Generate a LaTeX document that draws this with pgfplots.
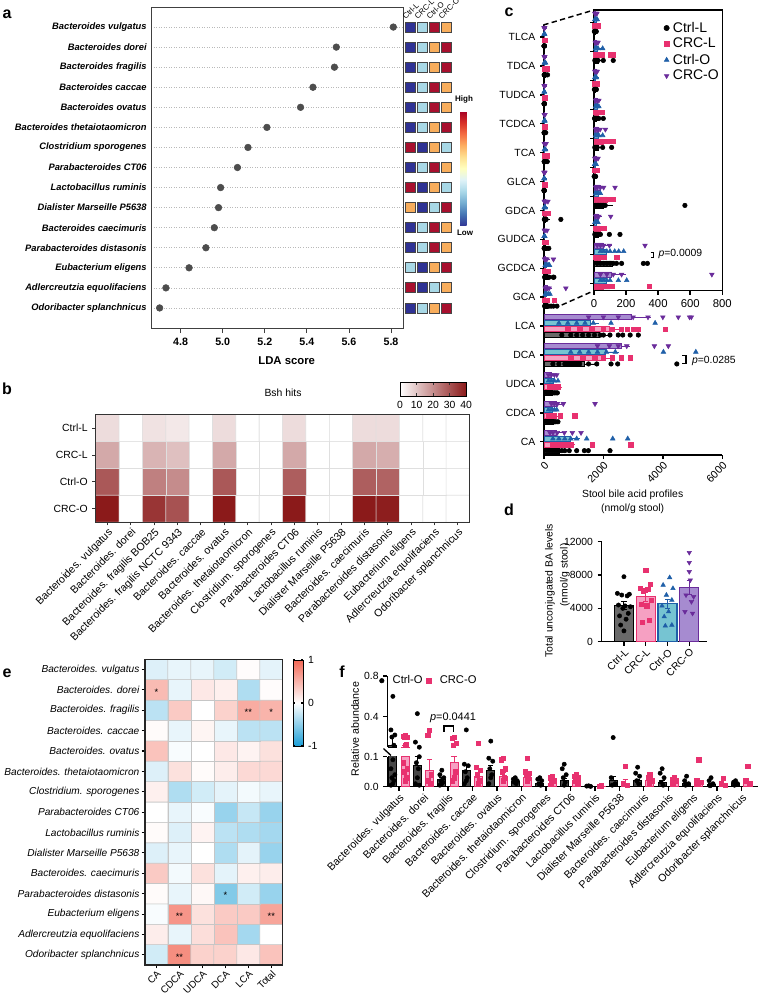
\documentclass[border=0pt]{standalone}
\usepackage{pgfplots}
\pgfplotsset{compat=1.18}
\usepackage{pgfplotstable}
\usepackage{fontspec}
\setmainfont{Liberation Sans}
\usetikzlibrary{calc}

\definecolor{cB}{RGB}{47,50,148}
\definecolor{cL}{RGB}{168,216,230}
\definecolor{cO}{RGB}{248,173,92}
\definecolor{cR}{RGB}{168,16,46}
\definecolor{dotgray}{RGB}{77,77,77}
\definecolor{sqedge}{RGB}{70,70,70}
\definecolor{pinkE}{RGB}{232,49,111}
\definecolor{pinkF}{RGB}{246,160,194}
\definecolor{blueE}{RGB}{31,95,168}
\definecolor{blueF}{RGB}{118,196,210}
\definecolor{purpE}{RGB}{106,44,155}
\definecolor{purpF}{RGB}{166,139,208}
\definecolor{grayF}{RGB}{105,105,105}

\newcommand\fs[1]{\fontsize{#1}{#1}\selectfont}

\pgfplotsset{
  every axis/.append style={scale only axis, /pgf/number format/assume math mode=true,
     /pgf/number format/1000 sep={},
     tick label style={font=\fs{7.8}}},
  mylegimg/.style={legend image code/.code={\draw[##1] plot coordinates {(0pt,0pt)}; \path (-2.5pt,0pt) (#1,0pt);}},
}

% ---- panel c data: bars (k mean err) and points (k value)
\pgfplotstableread[row sep=\\]{k m e\\
0 8 3\\ 1 30 12\\ 2 8 3\\ 3 15 6\\ 4 25 10\\ 5 5 2\\ 6 60 40\\ 7 30 12\\ 8 115 25\\ 9 100 30\\ 10 1850 250\\ 11 1350 330\\ 12 280 40\\ 13 300 40\\ 14 520 150\\}\bCtrlL
\pgfplotstableread[row sep=\\]{k m e\\
0 15 5\\ 1 40 15\\ 2 12 4\\ 3 30 8\\ 4 58 20\\ 5 10 4\\ 6 80 20\\ 7 37 10\\ 8 37 15\\ 9 58 15\\ 10 2200 400\\ 11 2000 300\\ 12 450 60\\ 13 340 60\\ 14 700 250\\}\bCRCL
\pgfplotstableread[row sep=\\]{k m e\\
0 12 4\\ 1 20 8\\ 2 10 3\\ 3 20 6\\ 4 25 8\\ 5 8 3\\ 6 27 8\\ 7 15 5\\ 8 79 15\\ 9 79 15\\ 10 1550 200\\ 11 2050 400\\ 12 300 50\\ 13 280 50\\ 14 875 230\\}\bCtrlO
\pgfplotstableread[row sep=\\]{k m e\\
0 10 3\\ 1 15 5\\ 2 12 3\\ 3 20 5\\ 4 25 10\\ 5 15 5\\ 6 37 15\\ 7 25 10\\ 8 58 38\\ 9 110 73\\ 10 2950 560\\ 11 2600 200\\ 12 250 50\\ 13 400 100\\ 14 430 150\\}\bCRCO

\pgfplotstableread[row sep=\\]{k v\\
0 2\\0 4\\0 6\\0 8\\0 10\\0 12\\0 14\\
1 5\\1 10\\1 15\\1 20\\1 25\\1 58\\1 120\\
2 2\\2 5\\2 8\\2 10\\2 12\\2 15\\
3 3\\3 6\\3 10\\3 15\\3 20\\3 30\\3 58\\
4 5\\4 10\\4 15\\4 20\\4 54\\4 110\\
5 1\\5 3\\5 5\\5 8\\5 10\\
6 10\\6 20\\6 30\\6 40\\6 50\\6 60\\6 70\\6 567\\
7 5\\7 10\\7 15\\7 20\\7 30\\7 40\\7 96\\7 162\\
8 20\\8 40\\8 60\\8 80\\8 100\\8 120\\8 140\\8 172\\8 308\\8 333\\
9 20\\9 40\\9 60\\9 80\\9 100\\9 120\\9 162\\9 241\\9 318\\9 437\\
10 600\\10 900\\10 1100\\10 1300\\10 1500\\10 1700\\10 1900\\10 2000\\10 2220\\10 2500\\10 2650\\10 2900\\10 3175\\
11 300\\11 500\\11 700\\11 800\\11 900\\11 1000\\11 1100\\11 1200\\11 1500\\11 1775\\11 2256\\11 2480\\11 4470\\
12 100\\12 150\\12 200\\12 250\\12 300\\12 350\\12 400\\12 450\\
13 100\\13 150\\13 200\\13 250\\13 300\\13 350\\13 400\\13 470\\
14 100\\14 200\\14 300\\14 400\\14 500\\14 600\\14 700\\14 850\\14 1100\\14 1357\\14 1492\\14 2222\\}\pCtrlL
\pgfplotstableread[row sep=\\]{k v\\
0 5\\0 10\\0 15\\0 20\\0 25\\
1 10\\1 20\\1 30\\1 48\\1 100\\1 117\\
2 5\\2 10\\2 15\\2 20\\
3 10\\3 20\\3 30\\3 40\\3 50\\
4 20\\4 30\\4 40\\4 58\\4 80\\4 117\\
5 5\\5 10\\5 15\\5 20\\
6 20\\6 40\\6 60\\6 83\\6 100\\6 120\\
7 10\\7 20\\7 30\\7 48\\7 60\\
8 10\\8 20\\8 30\\8 40\\8 60\\8 141\\
9 20\\9 40\\9 58\\9 80\\9 110\\9 345\\
10 800\\10 1200\\10 1600\\10 2000\\10 2300\\10 2600\\10 2800\\10 3000\\10 3175\\10 4075\\
11 900\\11 1300\\11 1700\\11 2000\\11 2300\\11 2600\\11 2900\\
12 200\\12 300\\12 400\\12 450\\12 485\\
13 150\\13 250\\13 350\\13 540\\13 1044\\
14 300\\14 400\\14 500\\14 600\\14 700\\14 800\\14 900\\14 1627\\14 2918\\}\pCRCL
\pgfplotstableread[row sep=\\]{k v\\
0 5\\0 10\\0 15\\0 20\\
1 10\\1 15\\1 25\\1 54\\
2 5\\2 10\\2 15\\
3 10\\3 15\\3 20\\3 30\\
4 10\\4 20\\4 30\\4 54\\
5 3\\5 6\\5 10\\5 14\\
6 10\\6 20\\6 30\\6 40\\
7 5\\7 10\\7 15\\7 20\\7 25\\
8 40\\8 60\\8 80\\8 100\\8 129\\8 154\\8 185\\
9 40\\9 60\\9 80\\9 100\\9 152\\9 204\\
10 500\\10 800\\10 1100\\10 1380\\10 1660\\10 2256\\10 3740\\
11 900\\11 1200\\11 1500\\11 1800\\11 2100\\11 2400\\11 4020\\11 5110\\
12 150\\12 250\\12 350\\12 470\\
13 150\\13 250\\13 350\\13 430\\
14 300\\14 500\\14 700\\14 900\\14 1100\\14 1437\\14 2313\\14 2818\\}\pCtrlO
\pgfplotstableread[row sep=\\]{k v\\
0 5\\0 10\\0 15\\0 18\\
1 8\\1 15\\1 20\\1 25\\
2 5\\2 10\\2 15\\2 20\\
3 10\\3 20\\3 30\\
4 10\\4 20\\4 38\\4 71\\
5 5\\5 10\\5 15\\5 25\\
6 10\\6 20\\6 40\\6 60\\6 131\\
7 10\\7 20\\7 30\\7 104\\
8 20\\8 40\\8 60\\8 96\\8 318\\
9 40\\9 80\\9 120\\9 172\\9 735\\
10 1500\\10 2000\\10 2500\\10 3000\\10 3500\\10 4000\\10 4520\\10 4900\\10 4960\\
11 1800\\11 2200\\11 2500\\11 2785\\11 3715\\11 4185\\
12 150\\12 250\\12 350\\12 430\\
13 250\\13 350\\13 450\\13 650\\13 1717\\
14 200\\14 300\\14 450\\14 684\\14 953\\14 1246\\}\pCRCO

% ---- panel f data
\pgfplotstableread[row sep=\\]{k m e\\
0 0.12 0.09\\ 1 0.072 0.028\\ 2 0.025 0.008\\ 3 0.055 0.02\\ 4 0.055 0.015\\ 5 0.018 0.004\\ 6 0.012 0.003\\ 7 0.02 0.008\\ 8 0.002 0.0005\\ 9 0.02 0.015\\ 10 0.02 0.006\\ 11 0.015 0.005\\ 12 0.012 0.004\\ 13 0.008 0.003\\ 14 0.012 0.003\\}\fbK
\pgfplotstableread[row sep=\\]{k m e\\
0 0.102 0.02\\ 1 0.055 0.035\\ 2 0.082 0.018\\ 3 0.035 0.012\\ 4 0.035 0.012\\ 5 0.03 0.012\\ 6 0.012 0.004\\ 7 0.02 0.006\\ 8 0.002 0.0005\\ 9 0.012 0.012\\ 10 0.02 0.005\\ 11 0.02 0.004\\ 12 0.015 0.008\\ 13 0.008 0.004\\ 14 0.012 0.006\\}\fbP
\pgfplotstableread[row sep=\\]{k j v\\
0 0 0.60\\ 0 -0.08 0.27\\ 0 0.08 0.22\\ 0 -0.04 0.20\\ 0 0.04 0.12\\ 0 0 0.09\\ 0 -0.08 0.06\\ 0 0.08 0.04\\ 0 -0.04 0.03\\ 0 0.04 0.02\\ 0 0 0.01\\ 0 -0.08 0.005\\
1 0 0.43\\ 1 -0.08 0.15\\ 1 0.08 0.10\\ 1 -0.04 0.08\\ 1 0.04 0.06\\ 1 0 0.03\\ 1 -0.08 0.01\\ 1 0.08 0.005\\
2 0 0.055\\ 2 -0.08 0.04\\ 2 0.08 0.03\\ 2 -0.04 0.02\\ 2 0.04 0.015\\ 2 0 0.01\\ 2 -0.08 0.005\\
3 0 0.27\\ 3 -0.08 0.075\\ 3 0.08 0.07\\ 3 -0.04 0.05\\ 3 0.04 0.03\\ 3 0 0.02\\ 3 -0.08 0.01\\
4 0 0.16\\ 4 -0.08 0.095\\ 4 0.08 0.085\\ 4 -0.04 0.06\\ 4 0.04 0.04\\ 4 0 0.03\\ 4 -0.08 0.01\\
5 0 0.03\\ 5 -0.08 0.025\\ 5 0.08 0.02\\ 5 -0.04 0.015\\ 5 0.04 0.01\\
6 0 0.03\\ 6 -0.08 0.025\\ 6 0.08 0.02\\ 6 -0.04 0.01\\ 6 0.04 0.005\\
7 0 0.075\\ 7 -0.08 0.06\\ 7 0.08 0.04\\ 7 -0.04 0.03\\ 7 0.04 0.015\\ 7 0 0.005\\
8 0 0.003\\ 8 -0.08 0.002\\ 8 0.08 0.001\\
9 0 0.195\\ 9 -0.08 0.03\\ 9 0.08 0.01\\ 9 -0.04 0.005\\
10 0 0.065\\ 10 -0.08 0.045\\ 10 0.08 0.035\\ 10 -0.04 0.02\\ 10 0.04 0.01\\
11 0 0.06\\ 11 -0.08 0.045\\ 11 0.08 0.03\\ 11 -0.04 0.015\\ 11 0.04 0.005\\
12 0 0.035\\ 12 -0.08 0.02\\ 12 0.08 0.01\\ 12 -0.04 0.005\\
13 0 0.03\\ 13 -0.08 0.02\\ 13 0.08 0.01\\ 13 -0.04 0.003\\
14 0 0.02\\ 14 -0.08 0.015\\ 14 0.08 0.01\\ 14 -0.04 0.005\\}\fpK
\pgfplotstableread[row sep=\\]{k j v\\
0 0 0.22\\ 0 -0.08 0.21\\ 0 0.08 0.20\\ 0 -0.04 0.20\\ 0 0.04 0.13\\ 0 0 0.12\\ 0 -0.08 0.08\\ 0 0.08 0.06\\ 0 -0.04 0.05\\ 0 0.04 0.03\\ 0 0 0.02\\
1 0 0.27\\ 1 -0.08 0.22\\ 1 0.08 0.04\\ 1 -0.04 0.02\\ 1 0.04 0.01\\
2 0 0.20\\ 2 -0.08 0.19\\ 2 0.08 0.14\\ 2 -0.04 0.12\\ 2 0.04 0.05\\ 2 0 0.03\\ 2 -0.08 0.02\\
3 0 0.14\\ 3 -0.08 0.065\\ 3 0.08 0.055\\ 3 -0.04 0.04\\ 3 0.04 0.02\\ 3 0 0.01\\
4 0 0.095\\ 4 -0.08 0.09\\ 4 0.08 0.06\\ 4 -0.04 0.05\\ 4 0.04 0.03\\ 4 0 0.02\\
5 0 0.095\\ 5 -0.08 0.05\\ 5 0.08 0.045\\ 5 -0.04 0.04\\ 5 0.04 0.03\\ 5 0 0.02\\
6 0 0.035\\ 6 -0.08 0.03\\ 6 0.08 0.02\\ 6 -0.04 0.01\\
7 0 0.04\\ 7 -0.08 0.035\\ 7 0.08 0.03\\ 7 -0.04 0.02\\ 7 0.04 0.01\\
8 0 0.003\\ 8 -0.08 0.002\\
9 0 0.067\\ 9 -0.08 0.01\\ 9 0.08 0.005\\
10 0 0.04\\ 10 -0.08 0.03\\ 10 0.08 0.02\\ 10 -0.04 0.01\\
11 0 0.03\\ 11 -0.08 0.025\\ 11 0.08 0.02\\ 11 -0.04 0.01\\
12 0 0.09\\ 12 -0.08 0.02\\ 12 0.08 0.015\\ 12 -0.04 0.01\\
13 0 0.028\\ 13 -0.08 0.01\\ 13 0.08 0.005\\
14 0 0.067\\ 14 -0.08 0.02\\ 14 0.08 0.01\\}\fpP

\begin{document}
\begin{tikzpicture}
\path[use as bounding box] (0,0) rectangle (569.25pt,-747pt);

% ================= panel a =================
\begin{axis}[at={(113.25pt,-5.25pt)}, anchor=north west, width=189pt, height=240.75pt,
  xmin=4.659, xmax=5.857, ymin=-16, ymax=0,
  xtick={4.8,5,5.2,5.4,5.6,5.8}, xticklabels={4.8,5.0,5.2,5.4,5.6,5.8},
  xticklabel style={font=\fs{8}\bfseries},
  xtick pos=left, ytick pos=left, tick align=outside, major tick length=3.75pt,
  ytick={-15,-14,...,-1},
  yticklabels={Odoribacter splanchnicus,Adlercreutzia equolifaciens,Eubacterium eligens,Parabacteroides distasonis,Bacteroides caecimuris,Dialister Marseille P5638,Lactobacillus ruminis,Parabacteroides CT06,Clostridium sporogenes,Bacteroides thetaiotaomicron,Bacteroides ovatus,Bacteroides caccae,Bacteroides fragilis,Bacteroides dorei,Bacteroides vulgatus},
  yticklabel style={font=\fs{7}\bfseries\itshape, xshift=4pt},
  ytick style={draw=none},
  ymajorgrids, major grid style={gray!55, line width=0.5pt, dash pattern=on 0.7pt off 1.2pt},
  axis line style={line width=0.6pt, black!75},
  xtick style={line width=0.6pt, black!75},
]
\addplot[only marks, mark=*, mark size=2.5pt, mark options={fill=dotgray, draw=dotgray}] table[row sep=\\] {x y\\ 5.811 -1\\ 5.54 -2\\ 5.531 -3\\ 5.429 -4\\ 5.37 -5\\ 5.21 -6\\ 5.12 -7\\ 5.07 -8\\ 4.99 -9\\ 4.98 -10\\ 4.96 -11\\ 4.92 -12\\ 4.84 -13\\ 4.73 -14\\ 4.70 -15\\};
\end{axis}

\begin{axis}[at={(303.525pt,-5.25pt)}, anchor=north west, width=35.7pt, height=240.75pt,
  xmin=0.5, xmax=4.5, ymin=-16, ymax=0, hide axis, clip=false,
  colormap={rdylbu}{rgb255=(49,54,149) rgb255=(69,117,180) rgb255=(116,173,209) rgb255=(171,217,233) rgb255=(224,243,248) rgb255=(255,255,191) rgb255=(254,224,144) rgb255=(253,174,97) rgb255=(244,109,67) rgb255=(215,48,39) rgb255=(165,0,38)},
  point meta min=0, point meta max=1,
  colorbar, colorbar shift/.style={},
  colorbar style={at={($(parent axis.north east)+(5.775pt,-78pt)$)}, anchor=north west, width=5pt, height=86pt, ytick=\empty, axis line style={draw=none}},
]
\addplot[only marks, mark=square*, mark size=3.75pt, mark options={fill=cB, draw=sqedge, line width=0.6pt}] coordinates {(1,-1)(1,-2)(1,-3)(1,-4)(1,-5)(1,-6)(2,-7)(1,-8)(2,-9)(2,-10)(1,-11)(1,-12)(2,-13)(2,-14)(1,-15)};
\addplot[only marks, mark=square*, mark size=3.75pt, mark options={fill=cL, draw=sqedge, line width=0.6pt}] coordinates {(2,-1)(2,-2)(2,-3)(2,-4)(2,-5)(2,-6)(4,-7)(2,-8)(4,-9)(3,-10)(2,-11)(2,-12)(1,-13)(3,-14)(2,-15)};
\addplot[only marks, mark=square*, mark size=3.75pt, mark options={fill=cR, draw=sqedge, line width=0.6pt}] coordinates {(3,-1)(4,-2)(4,-3)(3,-4)(3,-5)(4,-6)(1,-7)(3,-8)(1,-9)(4,-10)(3,-11)(3,-12)(4,-13)(1,-14)(4,-15)};
\addplot[only marks, mark=square*, mark size=3.75pt, mark options={fill=cO, draw=sqedge, line width=0.6pt}] coordinates {(4,-1)(3,-2)(3,-3)(4,-4)(4,-5)(3,-6)(3,-7)(4,-8)(3,-9)(1,-10)(4,-11)(4,-12)(3,-13)(4,-14)(3,-15)};
\end{axis}

% ================= panel b =================
\begin{axis}[at={(71.775pt,-311.025pt)}, anchor=north west, width=280.35pt, height=80.5pt,
  xmin=-0.5, xmax=15.5, ymin=-3.5, ymax=0.5, enlargelimits=false, axis on top,
  xtick={0,...,15},
  xticklabels={Bacteroides. vulgatus,Bacteroides. dorei,Bacteroides. fragilis BOB25,Bacteroides. fragilis NCTC 9343,Bacteroides. caccae,Bacteroides. ovatus,Bacteroides. thetaiotaomicron,Clostridium. sporogenes,Parabacteroides CT06,Lactobacillus ruminis,Dialister Marseille P5638,Bacteroides. caecimuris,Parabacteroides distasonis,Eubacterium eligens,Adlercreutzia equolifaciens,Odoribacter splanchnicus},
  xticklabel style={rotate=45, anchor=north east, font=\fs{8}, inner sep=1pt},
  ytick={-3,-2,-1,0}, yticklabels={CRC-O,Ctrl-O,CRC-L,Ctrl-L},
  tick align=outside, major tick length=2.5pt, xtick pos=left, ytick pos=left,
  axis line style={line width=0.6pt, black!80}, tick style={line width=0.5pt, black!80},
  colormap={bsh}{rgb255=(255,255,255) rgb255=(139,26,26)},
  point meta min=0, point meta max=40,
  colorbar horizontal, colorbar shift/.style={},
  colorbar style={at={($(parent axis.north east)+(-52.1pt,24.5pt)$)}, anchor=north west, width=49.5pt, height=10.5pt, xtick={0,10,20,30,40}, tick align=inside, major tick length=2pt, axis line style={line width=0.6pt}, xticklabel style={font=\fs{7.8}}},
]
\addplot[matrix plot*, mesh/cols=16, point meta=explicit, draw=gray!25, line width=0.4pt] table[meta=c, row sep=\\] {x y c\\
0 -3 40\\ 1 -3 0\\ 2 -3 35\\ 3 -3 30\\ 4 -3 0\\ 5 -3 40\\ 6 -3 0\\ 7 -3 0\\ 8 -3 40\\ 9 -3 0\\ 10 -3 0\\ 11 -3 40\\ 12 -3 39\\ 13 -3 0\\ 14 -3 0\\ 15 -3 0\\
0 -2 29\\ 1 -2 0\\ 2 -2 22\\ 3 -2 20\\ 4 -2 0\\ 5 -2 29\\ 6 -2 0\\ 7 -2 0\\ 8 -2 28\\ 9 -2 0\\ 10 -2 0\\ 11 -2 28\\ 12 -2 27\\ 13 -2 0\\ 14 -2 0\\ 15 -2 0\\
0 -1 15\\ 1 -1 0\\ 2 -1 13\\ 3 -1 11\\ 4 -1 0\\ 5 -1 15\\ 6 -1 0\\ 7 -1 0\\ 8 -1 15\\ 9 -1 0\\ 10 -1 0\\ 11 -1 15\\ 12 -1 14\\ 13 -1 0\\ 14 -1 0\\ 15 -1 0\\
0 0 6\\ 1 0 0\\ 2 0 5\\ 3 0 4\\ 4 0 0\\ 5 0 6\\ 6 0 0\\ 7 0 0\\ 8 0 6\\ 9 0 0\\ 10 0 0\\ 11 0 6\\ 12 0 6\\ 13 0 0\\ 14 0 0\\ 15 0 0\\};
\end{axis}

% ================= panel c (main) =================
\begin{axis}[at={(408pt,-18.75pt)}, anchor=north west, width=133.7pt, height=322.5pt,
  xmin=0, xmax=6000, ymin=-14.46, ymax=0.415,
  axis lines*=left, axis line style={line width=1.1pt, -},
  tick style={line width=1.1pt, black}, tick align=outside, major tick length=3pt,
  xtick={0,2000,4000,6000}, scaled x ticks=false,
  xticklabel style={rotate=45, anchor=north east, font=\fs{8}, inner sep=1pt},
  ytick={-14,-13,...,0}, yticklabels={CA,CDCA,UDCA,DCA,LCA,GCA,GCDCA,GUDCA,GDCA,GLCA,TCA,TCDCA,TUDCA,TDCA,TLCA},
]
\addplot[xbar, bar width=3.75pt, bar shift=0pt, fill=purpF, draw=purpE, line width=0.5pt, error bars/.cd, x dir=plus, x explicit, error mark=|, error bar style={purpE, line width=0.6pt}] table[x=m, y expr=-\thisrow{k}+0.31, x error=e] {\bCRCO};
\addplot[xbar, bar width=3.75pt, bar shift=0pt, fill=blueF, draw=blueE, line width=0.5pt, error bars/.cd, x dir=plus, x explicit, error mark=|, error bar style={blueE, line width=0.6pt}] table[x=m, y expr=-\thisrow{k}+0.105, x error=e] {\bCtrlO};
\addplot[xbar, bar width=3.75pt, bar shift=0pt, fill=pinkF, draw=pinkE, line width=0.5pt, error bars/.cd, x dir=plus, x explicit, error mark=|, error bar style={pinkE, line width=0.6pt}] table[x=m, y expr=-\thisrow{k}-0.105, x error=e] {\bCRCL};
\addplot[xbar, bar width=3.75pt, bar shift=0pt, fill=grayF, draw=black, line width=0.5pt, error bars/.cd, x dir=plus, x explicit, error mark=|, error bar style={black, line width=0.6pt}] table[x=m, y expr=-\thisrow{k}-0.31, x error=e] {\bCtrlL};
\addplot[only marks, mark=triangle*, mark size=2pt, mark options={rotate=180}, purpE] table[x=v, y expr=-\thisrow{k}+0.31] {\pCRCO};
\addplot[only marks, mark=triangle*, mark size=2pt, blueE] table[x=v, y expr=-\thisrow{k}+0.105] {\pCtrlO};
\addplot[only marks, mark=square*, mark size=1.7pt, pinkE] table[x=v, y expr=-\thisrow{k}-0.105] {\pCRCL};
\addplot[only marks, mark=*, mark size=1.7pt, black] table[x=v, y expr=-\thisrow{k}-0.31] {\pCtrlL};
\end{axis}

% ================= panel c (inset) =================
\begin{axis}[at={(445.5pt,-7.5pt)}, anchor=north west, width=96.2pt, height=210.5pt,
  xmin=0, xmax=800, ymin=-9.25, ymax=0.43,
  axis line style={line width=1.1pt}, tick style={line width=1.1pt, black}, tick align=outside, major tick length=3pt,
  xtick={0,200,400,600,800}, xtick pos=left, ytick pos=left, ytick={-9,-8,...,0}, yticklabels={},
  xticklabel style={font=\fs{8.5}},
  restrict y to domain=-9.6:1,
  legend style={at={(0.505,0.975)}, anchor=north west, draw=none, fill=none, font=\fs{10.5}, row sep=0pt, nodes={inner sep=1.5pt}},
  legend cell align=left, mylegimg=3pt,
]
\addplot[forget plot, xbar, bar width=3.75pt, bar shift=0pt, fill=purpF, draw=purpE, line width=0.5pt, error bars/.cd, x dir=plus, x explicit, error mark=|, error bar style={purpE, line width=0.6pt}] table[x=m, y expr=-\thisrow{k}+0.31, x error=e] {\bCRCO};
\addplot[forget plot, xbar, bar width=3.75pt, bar shift=0pt, fill=blueF, draw=blueE, line width=0.5pt, error bars/.cd, x dir=plus, x explicit, error mark=|, error bar style={blueE, line width=0.6pt}] table[x=m, y expr=-\thisrow{k}+0.105, x error=e] {\bCtrlO};
\addplot[forget plot, xbar, bar width=3.75pt, bar shift=0pt, fill=pinkF, draw=pinkE, line width=0.5pt, error bars/.cd, x dir=plus, x explicit, error mark=|, error bar style={pinkE, line width=0.6pt}] table[x=m, y expr=-\thisrow{k}-0.105, x error=e] {\bCRCL};
\addplot[forget plot, xbar, bar width=3.75pt, bar shift=0pt, fill=grayF, draw=black, line width=0.5pt, error bars/.cd, x dir=plus, x explicit, error mark=|, error bar style={black, line width=0.6pt}] table[x=m, y expr=-\thisrow{k}-0.31, x error=e] {\bCtrlL};
\addplot[forget plot, only marks, mark=triangle*, mark size=2pt, mark options={rotate=180}, purpE] table[x=v, y expr=-\thisrow{k}+0.31] {\pCRCO};
\addplot[forget plot, only marks, mark=triangle*, mark size=2pt, blueE] table[x=v, y expr=-\thisrow{k}+0.105] {\pCtrlO};
\addplot[forget plot, only marks, mark=square*, mark size=1.7pt, pinkE] table[x=v, y expr=-\thisrow{k}-0.105] {\pCRCL};
\addplot[forget plot, only marks, mark=*, mark size=1.7pt, black] table[x=v, y expr=-\thisrow{k}-0.31] {\pCtrlL};
\addlegendimage{only marks, mark=*, mark size=2pt, black}
\addlegendentry{Ctrl-L}
\addlegendimage{only marks, mark=square*, mark size=1.8pt, pinkE}
\addlegendentry{CRC-L}
\addlegendimage{only marks, mark=triangle*, mark size=2pt, blueE}
\addlegendentry{Ctrl-O}
\addlegendimage{only marks, mark=triangle*, mark size=2pt, mark options={rotate=180}, purpE}
\addlegendentry{CRC-O}
\end{axis}

% ================= panel d =================
\begin{axis}[at={(451.275pt,-406.275pt)}, anchor=north west, width=78.75pt, height=75pt,
  xmin=-1.02, xmax=3.8, ymin=0, ymax=12000,
  axis lines*=left, axis line style={line width=1.1pt, -},
  tick style={line width=1.1pt, black}, tick align=outside, major tick length=3pt,
  ytick={0,4000,8000,12000}, scaled y ticks=false,
  xtick={0,1,2,3}, xticklabels={Ctrl-L,CRC-L,Ctrl-O,CRC-O},
  xticklabel style={rotate=45, anchor=north east, font=\fs{7.8}, inner sep=1pt},
]
\addplot[ybar, bar width=14.25pt, bar shift=0pt, fill=grayF, draw=black, line width=0.8pt, error bars/.cd, y dir=both, y explicit, error mark=-, error bar style={black, line width=0.8pt}] table[x=x, y=m, y error=e, row sep=\\]{x m e\\ 0 4400 450\\};
\addplot[ybar, bar width=14.25pt, bar shift=0pt, fill=pinkF, draw=pinkE, line width=0.8pt, error bars/.cd, y dir=both, y explicit, error mark=-, error bar style={pinkE, line width=0.8pt}] table[x=x, y=m, y error=e, row sep=\\]{x m e\\ 1 5400 500\\};
\addplot[ybar, bar width=14.25pt, bar shift=0pt, fill=blueF, draw=blueE, line width=0.8pt, error bars/.cd, y dir=both, y explicit, error mark=-, error bar style={blueE, line width=0.8pt}] table[x=x, y=m, y error=e, row sep=\\]{x m e\\ 2 4600 550\\};
\addplot[ybar, bar width=14.25pt, bar shift=0pt, fill=purpF, draw=purpE, line width=0.8pt, error bars/.cd, y dir=both, y explicit, error mark=-, error bar style={purpE, line width=0.8pt}] table[x=x, y=m, y error=e, row sep=\\]{x m e\\ 3 6530 850\\};
\addplot[only marks, mark=*, mark size=1.6pt, black] table[row sep=\\]{x y\\ 0 7800\\ -0.3 5800\\ 0.25 5700\\ -0.1 5600\\ 0.15 5500\\ -0.25 4400\\ 0.05 4300\\ 0.3 4200\\ -0.05 4000\\ 0.2 3400\\ -0.2 3100\\ 0.1 2700\\ -0.15 2000\\ 0 1300\\};
\addplot[only marks, mark=square*, mark size=1.6pt, pinkE] table[row sep=\\]{x y\\ 1 8600\\ 1.2 6900\\ 0.75 6400\\ 1.1 6300\\ 0.9 6100\\ 1.25 5000\\ 0.8 4500\\ 1.05 4300\\ 1.15 2600\\ 0.85 2300\\};
\addplot[only marks, mark=triangle*, mark size=1.9pt, blueE] table[row sep=\\]{x y\\ 2.1 7700\\ 1.8 6800\\ 2.25 6400\\ 1.95 5600\\ 2.2 5000\\ 1.75 4300\\ 2.05 3600\\ 1.85 3000\\ 2.2 2000\\ 1.9 1900\\};
\addplot[only marks, mark=triangle*, mark size=1.9pt, mark options={rotate=180}, purpE] table[row sep=\\]{x y\\ 3 10700\\ 3 9500\\ 3 8400\\ 3.05 7400\\ 2.85 5600\\ 3.2 5400\\ 3.1 4800\\ 2.8 3600\\ 3.15 3400\\};
\end{axis}

% ================= panel e =================
\begin{axis}[at={(108.75pt,-494.475pt)}, anchor=north west, width=103.3pt, height=229.3pt,
  xmin=-0.5, xmax=5.5, ymin=-14.5, ymax=0.5, enlargelimits=false, axis on top,
  xtick={0,...,5}, xticklabels={CA,CDCA,UDCA,DCA,LCA,Total},
  xticklabel style={rotate=45, anchor=north east, font=\fs{7.4}, inner sep=0.5pt},
  ytick={-14,-13,...,0},
  yticklabels={Odoribacter splanchnicus,Adlercreutzia equolifaciens,Eubacterium eligens,Parabacteroides distasonis,Bacteroides. caecimuris,Dialister Marseille P5638,Lactobacillus ruminis,Parabacteroides CT06,Clostridium. sporogenes,Bacteroides. thetaiotaomicron,Bacteroides. ovatus,Bacteroides. caccae,Bacteroides. fragilis,Bacteroides. dorei,Bacteroides. vulgatus},
  yticklabel style={font=\fs{7.6}\itshape, inner sep=1.5pt},
  tick align=outside, major tick length=2.5pt, xtick pos=left, ytick pos=left,
  axis line style={line width=1.1pt, black!85}, tick style={line width=0.8pt, black},
  colormap={corr}{rgb255=(27,158,214) rgb255=(255,255,255) rgb255=(242,104,86)},
  point meta min=-1, point meta max=1,
  colorbar, colorbar shift/.style={},
  colorbar style={at={($(parent axis.north east)+(7.95pt,-0.5pt)$)}, anchor=north west, width=7.5pt, height=64.5pt, ytick={-1,0,1}, yticklabels={-1,0,1}, tick align=inside, major tick length=1.5pt, axis line style={line width=0.5pt}, yticklabel style={font=\fs{7.8}}},
]
\addplot[matrix plot*, mesh/cols=6, point meta=explicit, draw=gray!45, line width=0.4pt] table[meta=c, row sep=\\] {x y c\\
0 -14 -0.2\\ 1 -14 0.75\\ 2 -14 0.3\\ 3 -14 0.3\\ 4 -14 0.15\\ 5 -14 0.4\\
0 -13 0.12\\ 1 -13 -0.1\\ 2 -13 0.22\\ 3 -13 0.4\\ 4 -13 -0.4\\ 5 -13 0.0\\
0 -12 -0.03\\ 1 -12 0.7\\ 2 -12 0.2\\ 3 -12 0.35\\ 4 -12 0.35\\ 5 -12 0.6\\
0 -11 0.03\\ 1 -11 -0.1\\ 2 -11 0.05\\ 3 -11 -0.55\\ 4 -11 -0.2\\ 5 -11 -0.45\\
0 -10 0.35\\ 1 -10 -0.05\\ 2 -10 0.2\\ 3 -10 -0.12\\ 4 -10 0.1\\ 5 -10 0.12\\
0 -9 -0.15\\ 1 -9 -0.1\\ 2 -9 0.0\\ 3 -9 -0.35\\ 4 -9 -0.12\\ 5 -9 -0.45\\
0 -8 0.03\\ 1 -8 -0.15\\ 2 -8 0.08\\ 3 -8 -0.3\\ 4 -8 -0.35\\ 5 -8 -0.4\\
0 -7 0.0\\ 1 -7 -0.1\\ 2 -7 -0.03\\ 3 -7 -0.45\\ 4 -7 -0.25\\ 5 -7 -0.45\\
0 -6 0.1\\ 1 -6 -0.35\\ 2 -6 -0.2\\ 3 -6 -0.12\\ 4 -6 -0.05\\ 5 -6 -0.1\\
0 -5 -0.15\\ 1 -5 0.2\\ 2 -5 0.03\\ 3 -5 0.12\\ 4 -5 0.25\\ 5 -5 0.25\\
0 -4 0.4\\ 1 -4 -0.03\\ 2 -4 0.0\\ 3 -4 0.15\\ 4 -4 0.08\\ 5 -4 0.2\\
0 -3 0.03\\ 1 -3 -0.1\\ 2 -3 0.07\\ 3 -3 -0.1\\ 4 -3 -0.3\\ 5 -3 -0.3\\
0 -2 -0.3\\ 1 -2 0.35\\ 2 -2 0.0\\ 3 -2 0.3\\ 4 -2 0.55\\ 5 -2 0.5\\
0 -1 0.45\\ 1 -1 -0.1\\ 2 -1 0.15\\ 3 -1 0.1\\ 4 -1 -0.35\\ 5 -1 0.02\\
0 0 -0.15\\ 1 0 -0.1\\ 2 0 -0.1\\ 3 0 -0.2\\ 4 0 0.02\\ 5 0 -0.12\\};
\addplot[only marks, mark=none, point meta=explicit symbolic, nodes near coords, nodes near coords style={anchor=center, font=\fs{7}, yshift=-1.5pt, inner sep=0pt}] table[meta=s, row sep=\\] {x y s\\ 0 -1 *\\ 4 -2 **\\ 5 -2 *\\ 3 -11 *\\ 1 -12 **\\ 5 -12 **\\ 1 -14 **\\};
\end{axis}

% ================= panel f (lower) =================
\begin{axis}[at={(290.475pt,-567.525pt)}, anchor=north west, width=278.25pt, height=22.5pt,
  xmin=-0.478, xmax=14.68, ymin=0, ymax=0.1,
  axis lines*=left, axis line style={line width=1.1pt, -},
  tick style={line width=1.1pt, black}, tick align=outside, major tick length=3pt,
  ytick={0,0.1}, yticklabels={0.0,0.1},
  xtick={0,...,14},
  xticklabels={Bacteroides. vulgatus,Bacteroides. dorei,Bacteroides. fragilis,Bacteroides. caccae,Bacteroides. ovatus,Bacteroides. thetaiotaomicron,Clostridium. sporogenes,Parabacteroides CT06,Lactobacillus ruminis,Dialister Marseille P5638,Bacteroides. caecimuris,Parabacteroides distasonis,Eubacterium eligens,Adlercreutzia equolifaciens,Odoribacter splanchnicus},
  xticklabel style={rotate=45, anchor=north east, font=\fs{8}, inner sep=1pt},
]
\addplot[ybar, bar width=6pt, bar shift=0pt, fill=black!72, draw=black, line width=0.6pt, error bars/.cd, y dir=plus, y explicit, error mark=-, error bar style={black, line width=0.6pt}] table[x expr=\thisrow{k}-0.25, y=m, y error=e] {\fbK};
\addplot[ybar, bar width=6pt, bar shift=0pt, fill=pinkF, draw=pinkE, line width=0.6pt, error bars/.cd, y dir=plus, y explicit, error mark=-, error bar style={pinkE, line width=0.6pt}] table[x expr=\thisrow{k}+0.25, y=m, y error=e] {\fbP};
\addplot[only marks, mark=*, mark size=1.6pt, black, restrict y to domain=0:0.1] table[x expr=\thisrow{k}-0.25+\thisrow{j}, y=v] {\fpK};
\addplot[only marks, mark=square*, mark size=1.6pt, pinkE, restrict y to domain=0:0.1] table[x expr=\thisrow{k}+0.25+\thisrow{j}, y=v] {\fpP};
\end{axis}

% ================= panel f (upper) =================
\begin{axis}[at={(290.475pt,-507pt)}, anchor=north west, width=278.25pt, height=53.4pt,
  xmin=-0.478, xmax=14.68, ymin=0.1, ymax=0.8,
  axis x line=none, axis y line*=left, axis line style={line width=1.1pt, -},
  tick style={line width=1.1pt, black}, tick align=outside, major tick length=3pt,
  ytick={0.4,0.8}, yticklabels={0.4,0.8}, xtick=\empty,
  restrict y to domain=0.1:1,
  legend columns=2,
  legend style={at={(-0.036,0.934)}, anchor=west, draw=none, fill=none, font=\fs{8.4}, /tikz/every even column/.append style={column sep=0pt}},
  mylegimg=6pt,
]
\addplot[forget plot, ybar, bar width=6pt, bar shift=0pt, fill=black!72, draw=black, line width=0.6pt, error bars/.cd, y dir=plus, y explicit, error mark=-, error bar style={black, line width=0.6pt}] table[x expr=\thisrow{k}-0.25, y=m, y error=e] {\fbK};
\addplot[forget plot, ybar, bar width=6pt, bar shift=0pt, fill=pinkF, draw=pinkE, line width=0.6pt, error bars/.cd, y dir=plus, y explicit, error mark=-, error bar style={pinkE, line width=0.6pt}] table[x expr=\thisrow{k}+0.25, y=m, y error=e] {\fbP};
\addplot[forget plot, only marks, mark=*, mark size=1.6pt, black] table[x expr=\thisrow{k}-0.25+\thisrow{j}, y=v] {\fpK};
\addplot[forget plot, only marks, mark=square*, mark size=1.6pt, pinkE] table[x expr=\thisrow{k}+0.25+\thisrow{j}, y=v] {\fpP};
\addlegendimage{only marks, mark=*, mark size=1.7pt, black}
\addlegendentry{Ctrl-O}
\addlegendimage{only marks, mark=square*, mark size=1.7pt, pinkE}
\addlegendentry{CRC-O}
\end{axis}

% ================= annotations =================
\node[font=\fs{12}\bfseries] at (5.25pt,-10.5pt) {a};
\node[font=\fs{12}\bfseries] at (5.25pt,-291.75pt) {b};
\node[font=\fs{12}\bfseries] at (381.75pt,-9pt) {c};
\node[font=\fs{12}\bfseries] at (381.75pt,-382.5pt) {d};
\node[font=\fs{12}\bfseries] at (5.25pt,-504.75pt) {e};
\node[font=\fs{12}\bfseries] at (256.5pt,-504pt) {f};

\node[font=\fs{8.5}\bfseries] at (215pt,-270.75pt) {LDA score};
\node[font=\fs{6}\bfseries] at (348pt,-74.25pt) {High};
\node[font=\fs{6}\bfseries] at (348.75pt,-174.75pt) {Low};
\foreach \xx/\tt in {304.5/Ctrl-L,313.5/CRC-L,322.5/Ctrl-O,331.5/CRC-O}
  \node[rotate=45, anchor=south west, font=\fs{5.8}, inner sep=0pt] at (\xx pt,-15pt) {\tt};

\node[font=\fs{7.8}] at (212.25pt,-294.5pt) {Bsh hits};

\node[font=\fontsize{7.8}{10.7}\selectfont, align=center] at (474.5pt,-376.5pt) {Stool bile acid profiles\\(nmol/g stool)};
\draw[line width=1.1pt, dash pattern=on 4pt off 2.5pt] (407.5pt,-18.75pt) -- (445.5pt,-7.5pt);
\draw[line width=1.1pt, dash pattern=on 4pt off 2.5pt] (421.3pt,-228.75pt) -- (445.5pt,-218pt);
\draw[line width=1pt] (487.9pt,-189.4pt) -- (490.1pt,-189.4pt) -- (490.1pt,-193.1pt) -- (487.9pt,-193.1pt);
\node[anchor=west, font=\fs{7.8}, inner sep=0pt] at (493.7pt,-190.5pt) {\textit{p}=0.0009};
\draw[line width=1pt] (511.5pt,-266.8pt) -- (514.5pt,-266.8pt) -- (514.5pt,-272.5pt) -- (511.5pt,-272.5pt);
\node[anchor=west, font=\fs{7.8}, inner sep=0pt] at (518.8pt,-270.5pt) {\textit{p}=0.0285};

\node[rotate=90, font=\fs{7.8}] at (412.5pt,-443.25pt) {Total unconjugated BA levels};
\node[rotate=90, font=\fs{7.8}] at (423.75pt,-431.25pt) {(nmol/g stool)};

\node[rotate=90, font=\fs{8}] at (266.25pt,-546.75pt) {Relative abundance};
\node[font=\fs{8.2}] at (339.75pt,-538pt) {\textit{p}=0.0441};
\draw[line width=1pt] (333pt,-548.8pt) -- (333pt,-544.5pt) -- (340pt,-544.5pt) -- (340pt,-548.8pt);
\draw[line width=1pt] (287.6pt,-561.4pt) -- (293.25pt,-566.6pt);
\end{tikzpicture}
\end{document}
